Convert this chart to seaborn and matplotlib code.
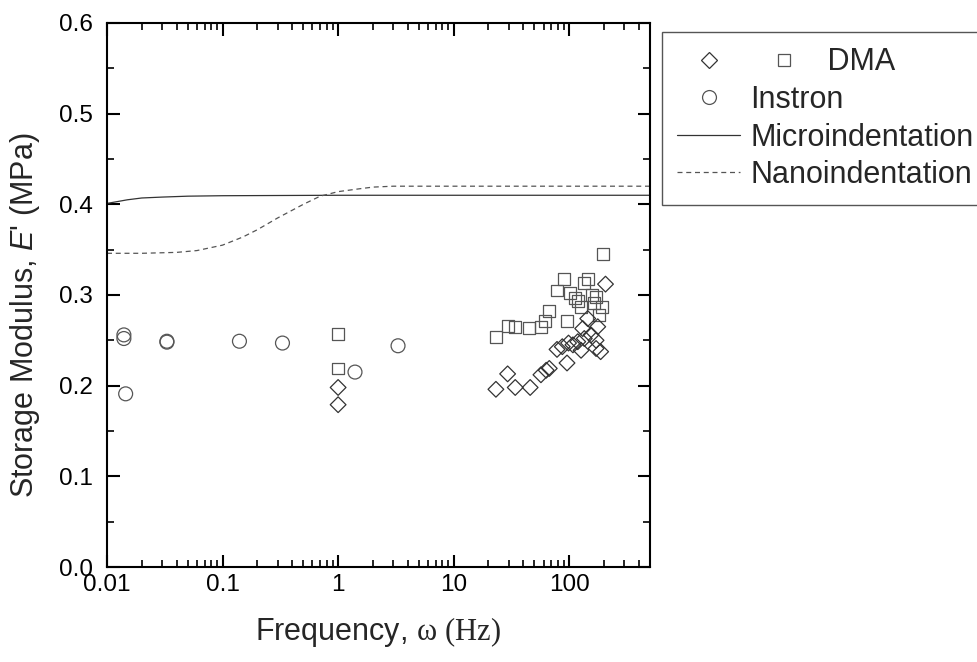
import numpy as np
import pandas as pd
import seaborn as sns
import matplotlib
matplotlib.use("Agg")
import matplotlib.pyplot as plt
from matplotlib.lines import Line2D
from matplotlib.legend_handler import HandlerBase
from matplotlib.ticker import LogLocator, MultipleLocator, FixedLocator, FixedFormatter, NullFormatter

# --- data ---
instron_f = [0.014, 0.014, 0.0145, 0.033, 0.033, 0.14, 0.33, 1.4, 3.3]
instron_E = [0.256, 0.252, 0.191, 0.249, 0.248, 0.249, 0.247, 0.215, 0.244]

dma_sq_f = [1.0, 1.0, 23.2, 29.3, 34.1, 45.1, 56.9, 61.7, 67.2, 78.4, 89.6, 95.7,
            102, 113, 118.5, 126.6, 135, 144.6, 156.7, 165, 170.7, 182.4, 191.4, 197]
dma_sq_E = [0.257, 0.219, 0.254, 0.266, 0.265, 0.264, 0.265, 0.271, 0.282, 0.305, 0.318, 0.271,
            0.302, 0.297, 0.293, 0.287, 0.313, 0.318, 0.300, 0.291, 0.298, 0.278, 0.287, 0.345]

dma_di_f = [1.0, 1.0, 23.2, 29.3, 34.1, 45.9, 56.9, 63.2, 67.2, 78.4, 87.1, 95.7, 98.6,
            107.6, 118.5, 126.6, 130.8, 135, 144.6, 154.4, 170.7, 176.5, 170.7, 187, 206]
dma_di_E = [0.198, 0.179, 0.196, 0.213, 0.198, 0.198, 0.212, 0.217, 0.219, 0.240, 0.243, 0.225, 0.247,
            0.245, 0.2485, 0.239, 0.263, 0.252, 0.274, 0.256, 0.250, 0.265, 0.241, 0.2375, 0.312]

micro_f = [0.01, 0.015, 0.02, 0.03, 0.05, 0.1, 1, 10, 100, 500]
micro_E = [0.401, 0.405, 0.407, 0.408, 0.409, 0.4095, 0.41, 0.41, 0.41, 0.41]

nano_f = [0.01, 0.02, 0.04, 0.06, 0.1, 0.15, 0.2, 0.3, 0.5, 0.7, 1, 1.5, 2, 3, 5, 10, 100, 500]
nano_E = [0.346, 0.346, 0.347, 0.349, 0.355, 0.364, 0.372, 0.385, 0.400, 0.409, 0.414, 0.417,
          0.419, 0.420, 0.420, 0.420, 0.420, 0.420]

x_ticks = [0.01, 0.1, 1, 10, 100]
x_ticklabels = ["0.01", "0.1", "1", "10", "100"]

sns.set_theme(style="ticks")
plt.rcParams["font.family"] = ["Liberation Sans", "DejaVu Sans"]
plt.rcParams["mathtext.fontset"] = "custom"
plt.rcParams["mathtext.rm"] = "Liberation Serif"
plt.rcParams["mathtext.it"] = "Liberation Sans:italic"

fig = plt.figure(figsize=(9.77, 6.62), dpi=100)
ax = fig.add_axes([107 / 977, 1 - 567 / 662, 543 / 977, 544 / 662])

sq_c, di_c, ci_c = "#555555", "#333333", "#555555"

sns.lineplot(x=micro_f, y=micro_E, ax=ax, color="#333333", lw=0.9, sort=False)
sns.lineplot(x=nano_f, y=nano_E, ax=ax, color="#555555", lw=0.9, sort=False,
             linestyle=(0, (4, 3)))
sns.scatterplot(x=dma_sq_f, y=dma_sq_E, ax=ax, marker="s", s=8.5 ** 2,
                facecolor="none", edgecolor=sq_c, linewidth=0.9, zorder=3)
sns.scatterplot(x=dma_di_f, y=dma_di_E, ax=ax, marker="D", s=8.0 ** 2,
                facecolor="none", edgecolor=di_c, linewidth=0.9, zorder=3)
sns.scatterplot(x=instron_f, y=instron_E, ax=ax, marker="o", s=10 ** 2,
                facecolor="none", edgecolor=ci_c, linewidth=0.9, zorder=3)

ax.set_xscale("log")
ax.set_xlim(0.01, 500)
ax.set_ylim(0, 0.6)
ax.xaxis.set_major_locator(FixedLocator(x_ticks))
ax.xaxis.set_major_formatter(FixedFormatter(x_ticklabels))
ax.xaxis.set_minor_locator(LogLocator(base=10, subs=np.arange(2, 10)))
ax.xaxis.set_minor_formatter(NullFormatter())
ax.yaxis.set_major_locator(MultipleLocator(0.1))
ax.yaxis.set_minor_locator(MultipleLocator(0.05))
ax.yaxis.set_major_formatter(matplotlib.ticker.FormatStrFormatter("%.1f"))

for sp in ax.spines.values():
    sp.set_linewidth(1.5)
    sp.set_color("black")
ax.tick_params(which="both", direction="in", top=True, right=True, colors="black")
ax.tick_params(which="major", length=9, width=1.5, labelsize=17.5)
ax.tick_params(axis="y", which="major", pad=10)
ax.tick_params(axis="x", which="major", pad=5)
ax.tick_params(which="minor", length=5, width=1.2)

ax.set_xlabel(r"Frequency, $\mathrm{\omega\ (Hz)}$", fontsize=22, labelpad=14)
ax.set_ylabel(r"Storage Modulus, $\mathit{E}$' (MPa)", fontsize=22, labelpad=12)
ax.yaxis.label.set_y(0.463)


class PairHandler(HandlerBase):
    # diamond in the handle slot, square pushed to the right of it
    def create_artists(self, legend, orig_handle, xdescent, ydescent,
                       width, height, fontsize, trans):
        y = height / 2 - ydescent
        xs = [width / 2 - xdescent, width * 1.71 - xdescent]
        out = []
        for h, x in zip(orig_handle, xs):
            out.append(Line2D([x], [y], ls="none", marker=h.get_marker(),
                              ms=h.get_markersize(), mfc="none",
                              mec=h.get_markeredgecolor(),
                              mew=h.get_markeredgewidth(), transform=trans))
        return out


h_di = Line2D([], [], ls="none", marker="D", ms=8.0, mfc="none", mec=di_c, mew=0.9)
h_sq = Line2D([], [], ls="none", marker="s", ms=8.5, mfc="none", mec=sq_c, mew=0.9)
h_ci = Line2D([], [], ls="none", marker="o", ms=10, mfc="none", mec=ci_c, mew=0.9)
h_mi = Line2D([], [], color="#333333", lw=0.9)
h_na = Line2D([], [], color="#555555", lw=0.9, ls=(0, (4, 3)))

leg = fig.legend([(h_di, h_sq), h_ci, h_mi, h_na],
                 ["         DMA", "Instron", "Microindentation", "Nanoindentation"],
                 handler_map={tuple: PairHandler()},
                 loc="upper left", bbox_to_anchor=(662 / 977, 1 - 32 / 662),
                 borderaxespad=0, fontsize=22, handlelength=2.05, handletextpad=0.35,
                 labelspacing=0.25, borderpad=0.5, fancybox=False, framealpha=1)
leg.get_frame().set_edgecolor("#555555")
leg.get_frame().set_linewidth(1.0)

fig.savefig("out.png", dpi=100)
